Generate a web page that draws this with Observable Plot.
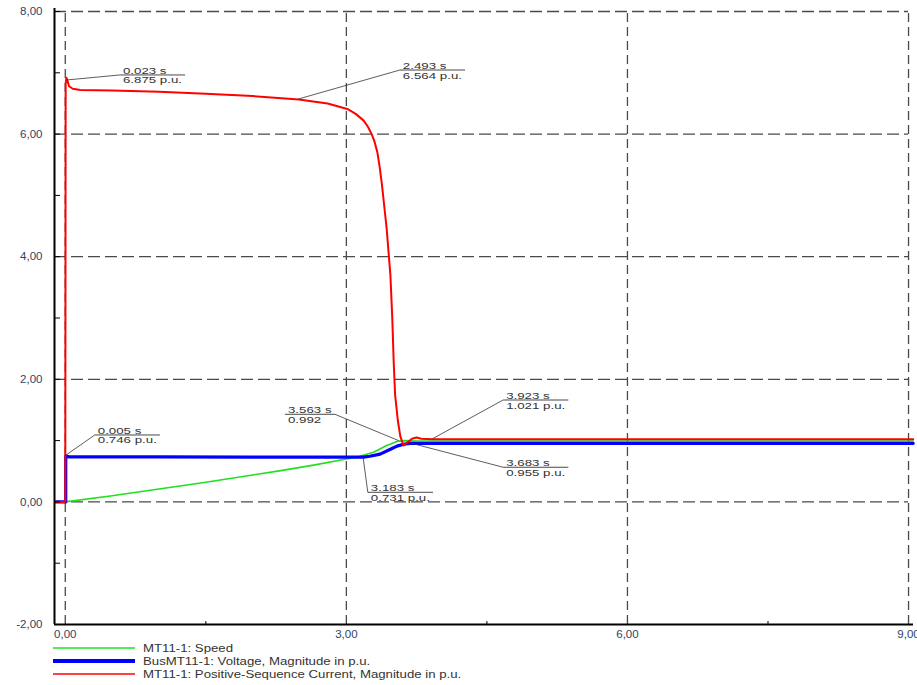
<!DOCTYPE html>
<html>
<head>
<meta charset="utf-8">
<script src="https://cdn.jsdelivr.net/npm/d3@7"></script>
<script src="https://cdn.jsdelivr.net/npm/@observablehq/plot@0.6"></script>
<style>
  body { margin: 0; background: #fff; font-family: "Liberation Sans", Arial, sans-serif; }
  #legend { padding-left: 53px; margin-top: 2px; }
  .row { display: flex; align-items: center; height: 12.7px; }
  .row svg { width: 82px; height: 12px; flex: none; }
  .row span { display: inline-block; margin-left: 8px; font-size: 11px; color: #333;
              transform: scaleX(1.2); transform-origin: 0 50%; white-space: nowrap; }
</style>
</head>
<body>
<div id="chart"></div>
<div id="legend"></div>
<script>
// Motor start-up simulation: time in s, quantities in p.u.
const speed = [
  [0, 0], [0.5, 0.1], [1.0, 0.21], [1.5, 0.32], [2.0, 0.44], [2.3, 0.51],
  [2.65, 0.6], [3.0, 0.7], [3.11, 0.73], [3.29, 0.81], [3.43, 0.92],
  [3.52, 0.975], [3.563, 0.992], [3.62, 1.0], [3.75, 0.994], [9.05, 0.994]
];
const voltage = [
  [-0.1, 0], [0.005, 0], [0.005, 0.746], [0.04, 0.735], [1.0, 0.733],
  [2.0, 0.732], [3.183, 0.731], [3.25, 0.745], [3.36, 0.78], [3.47, 0.86],
  [3.54, 0.91], [3.61, 0.94], [3.683, 0.955], [9.05, 0.955]
];
const current = [
  [-0.1, 0], [0, 0], [0.004, 6.82], [0.012, 6.92], [0.023, 6.875], [0.04, 6.78],
  [0.08, 6.74], [0.16, 6.72], [0.5, 6.71], [1.0, 6.69], [1.5, 6.66], [2.0, 6.62],
  [2.493, 6.564], [2.8, 6.5], [3.01, 6.41], [3.1, 6.33], [3.185, 6.22], [3.23, 6.12],
  [3.27, 6.0], [3.3, 5.88], [3.33, 5.71], [3.355, 5.47], [3.38, 5.17], [3.43, 4.46],
  [3.47, 3.7], [3.49, 3.0], [3.505, 2.29], [3.52, 1.75], [3.55, 1.32], [3.576, 1.07],
  [3.61, 0.92], [3.65, 0.97], [3.7, 1.03], [3.75, 1.05], [3.8, 1.03], [3.923, 1.021],
  [4.17, 1.02], [9.05, 1.02]
];

const seriesNames = [
  "MT11-1: Speed",
  "BusMT11-1: Voltage, Magnitude in p.u.",
  "MT11-1: Positive-Sequence Current, Magnitude in p.u."
];
const seriesData = [speed, voltage, current];

// Value read-outs placed on the curves
const callouts = [
  {t: 0.023, v: 6.875, unit: " p.u."},
  {t: 2.493, v: 6.564, unit: " p.u."},
  {t: 0.005, v: 0.746, unit: " p.u."},
  {t: 3.563, v: 0.992, unit: ""},
  {t: 3.683, v: 0.955, unit: " p.u."},
  {t: 3.923, v: 1.021, unit: " p.u."},
  {t: 3.183, v: 0.731, unit: " p.u."}
];

const xTicks = [0, 3, 6, 9];
const xMinorTicks = [1.5, 4.5, 7.5];
const yTicks = [-2, 0, 2, 4, 6, 8];
const yMinorTicks = d3.range(-2, 9);

// ---- styling ----
const colors = ["#20e020", "#0000ff", "#ff0000"];
const lineWidths = [1.6, 3.2, 2];
const legendWidths = [1.5, 4, 1.5];
const xDomain = [-0.115, 9.053];
const gridColor = "#4a4a4a";
const tickColor = "#2f4366";
// label box offsets from each read-out point (px) and which end the leader attaches to
const calloutOffsets = [
  [53, -5, "start"], [101.5, -29, "start"], [29.5, -20.7, "start"], [-63.7, -26.3, "end"],
  [93.3, 24.4, "start"], [70.8, -38.8, "start"], [4.8, 35.7, "start"]
];
const calloutStretch = 1.4;

const fmt = d => d.toFixed(2).replace(".", ",");

const lineMarks = seriesData.map((data, i) =>
  Plot.line(data, {x: d => d[0], y: d => d[1], stroke: colors[i], strokeWidth: lineWidths[i], curve: "linear"})
);

const plot = Plot.plot({
  width: 917,
  height: 640,
  marginLeft: 54,
  marginRight: 4,
  marginTop: 11,
  marginBottom: 16,
  x: {domain: xDomain},
  y: {domain: [-2, 8]},
  style: {fontFamily: "'Liberation Sans', Arial, sans-serif", fontSize: "11.5px", background: "#fff"},
  marks: [
    Plot.ruleY(yTicks.filter(d => d > -2), {x1: xDomain[0], x2: 9, stroke: gridColor, strokeWidth: 1.3, strokeDasharray: "12,5"}),
    Plot.ruleX(xTicks, {y1: -2, y2: 8, stroke: gridColor, strokeWidth: 1.3, strokeDasharray: "9,5"}),
    ...lineMarks,
    Plot.ruleX([xDomain[0]], {stroke: "#000", strokeWidth: 2, insetTop: -3}),
    Plot.ruleY([-2], {stroke: "#000", strokeWidth: 2}),
    Plot.axisY(yMinorTicks, {tickSize: 6, dx: 6, tickFormat: () => "", stroke: "#000"}),
    Plot.axisX(xMinorTicks, {tickSize: 3, dy: -3, tickFormat: () => "", stroke: "#000"}),
    Plot.axisY(yTicks, {tickSize: 0, tickPadding: 12, tickFormat: fmt, color: tickColor}),
    Plot.axisX(xTicks, {tickSize: 0, tickPadding: 5.5, tickFormat: fmt, color: tickColor})
  ]
});
document.getElementById("chart").append(plot);

// ---- read-out labels with leader lines, positioned through the plot's scales ----
const sx = plot.scale("x"), sy = plot.scale("y");
const fx = sx.apply ? v => sx.apply(v) : d3.scaleLinear(sx.domain, sx.range);
const fy = sy.apply ? v => sy.apply(v) : d3.scaleLinear(sy.domain, sy.range);
const layer = d3.select(plot).append("g")
  .attr("font-family", "'Liberation Sans', Arial, sans-serif")
  .attr("font-size", 9.5)
  .attr("text-anchor", "start")
  .attr("fill", "#333");

callouts.forEach((c, i) => {
  const [dx, dy, side] = calloutOffsets[i];
  const px = fx(c.t), py = fy(c.v);
  const ax = px + dx, uy = py + dy;
  const g = layer.append("g");
  const texts = [c.t.toFixed(3) + " s", c.v.toFixed(3) + c.unit].map(s => g.append("text").text(s));
  const len = d3.max(texts, t => t.node().getBBox().width * calloutStretch) + 6;
  const lx = side === "start" ? ax : ax - len;
  texts[0].attr("transform", `translate(${lx + 3},${uy - 1}) scale(${calloutStretch},1)`);
  texts[1].attr("transform", `translate(${lx + 3},${uy + 8.5}) scale(${calloutStretch},1)`);
  g.append("line").attr("x1", lx).attr("x2", lx + len).attr("y1", uy).attr("y2", uy)
    .attr("stroke", "#333").attr("stroke-width", 0.9);
  g.append("line").attr("x1", px).attr("y1", py).attr("x2", ax).attr("y2", uy)
    .attr("stroke", "#333").attr("stroke-width", 0.8);
});

// ---- legend ----
const legend = d3.select("#legend");
seriesNames.forEach((name, i) => {
  const row = legend.append("div").attr("class", "row");
  row.append("svg").append("line")
    .attr("x1", 0).attr("x2", 82).attr("y1", 6).attr("y2", 6)
    .attr("stroke", colors[i]).attr("stroke-width", legendWidths[i]);
  row.append("span").text(name);
});
</script>
</body>
</html>
